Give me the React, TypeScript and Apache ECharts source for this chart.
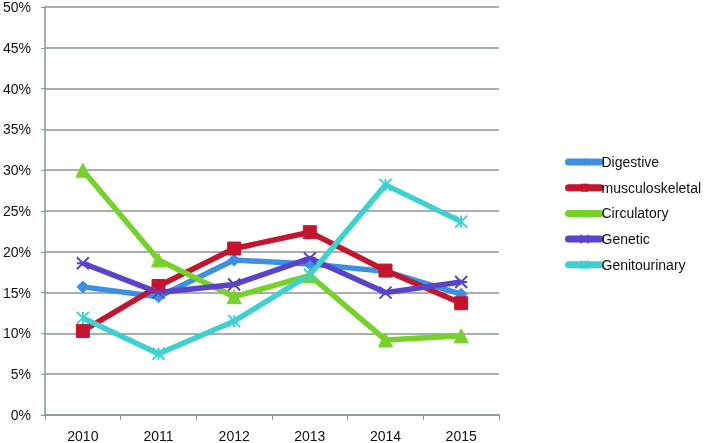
import React, { useEffect, useRef } from "react";
import * as echarts from "echarts";

const years = ["2010", "2011", "2012", "2013", "2014", "2015"];
const digestive = [15.7, 14.5, 19.0, 18.5, 17.6, 14.8];
const musculoskeletal = [10.3, 15.8, 20.4, 22.4, 17.7, 13.7];
const circulatory = [30.0, 19.0, 14.5, 17.1, 9.2, 9.7];
const genetic = [18.6, 15.0, 16.0, 19.2, 15.0, 16.3];
const genitourinary = [11.9, 7.5, 11.5, 17.2, 28.2, 23.7];

const xSym = "path://M0 0L10 10M10 0L0 10M0 5L10 5";
const starSym = "path://M0 0L10 10M10 0L0 10M5 0L5 10";

export default function App() {
  const ref = useRef<HTMLDivElement>(null);
  useEffect(() => {
    const chart = echarts.init(ref.current!, null, { renderer: "svg" });
    const mk = (name: string, data: number[], color: string, symbol: string, size: number, stroke = false) => ({
      name,
      type: "line",
      data,
      symbol,
      symbolSize: size,
      lineStyle: { color, width: 5.5 },
      itemStyle: stroke
        ? { color: "rgba(0,0,0,0)", borderColor: color, borderWidth: 2 }
        : { color, borderColor: color },
      emphasis: { disabled: true },
    });
    chart.setOption({
      animation: false,
      grid: { left: 42, right: 210, top: 6, bottom: 27 },
      textStyle: { fontFamily: "Liberation Sans" },
      legend: {
        orient: "vertical",
        left: 560,
        top: 150,
        itemWidth: 32,
        itemHeight: 10,
        itemGap: 11.7,
        lineStyle: { width: 7, cap: "round" },
        textStyle: { fontSize: 14, color: "#111", fontFamily: "Liberation Sans", padding: [0, 0, 0, -4] },
        data: ["Digestive", "musculoskeletal", "Circulatory", "Genetic", "Genitourinary"],
      },
      xAxis: {
        type: "category",
        data: years,
        boundaryGap: true,
        axisLine: { lineStyle: { color: "#8a9494", width: 1.5 } },
        axisTick: { show: true, length: 5, lineStyle: { color: "#8a9494" } },
        axisLabel: { fontSize: 14, color: "#111", margin: 14 },
      },
      yAxis: {
        type: "value",
        min: 0,
        max: 50,
        interval: 5,
        axisLine: { show: true, lineStyle: { color: "#8a9494", width: 1.5 } },
        axisTick: { show: true, length: 4, lineStyle: { color: "#8a9494" } },
        axisLabel: { fontSize: 14, color: "#111", margin: 14, formatter: "{value}%" },
        splitLine: { lineStyle: { color: "#8a9494", width: 1.5 } },
      },
      series: [
        mk("Digestive", digestive, "#3d8fe3", "diamond", 12),
        mk("musculoskeletal", musculoskeletal, "#c3152e", "rect", 13),
        mk("Circulatory", circulatory, "#76d12a", "triangle", 14),
        mk("Genetic", genetic, "#5a43c9", xSym, 12, true),
        mk("Genitourinary", genitourinary, "#3fd0d0", starSym, 12, true),
      ],
    });
    return () => chart.dispose();
  }, []);
  return <div ref={ref} style={{ position: "fixed", left: 0, top: 0, width: 709, height: 443 }} />;
}
